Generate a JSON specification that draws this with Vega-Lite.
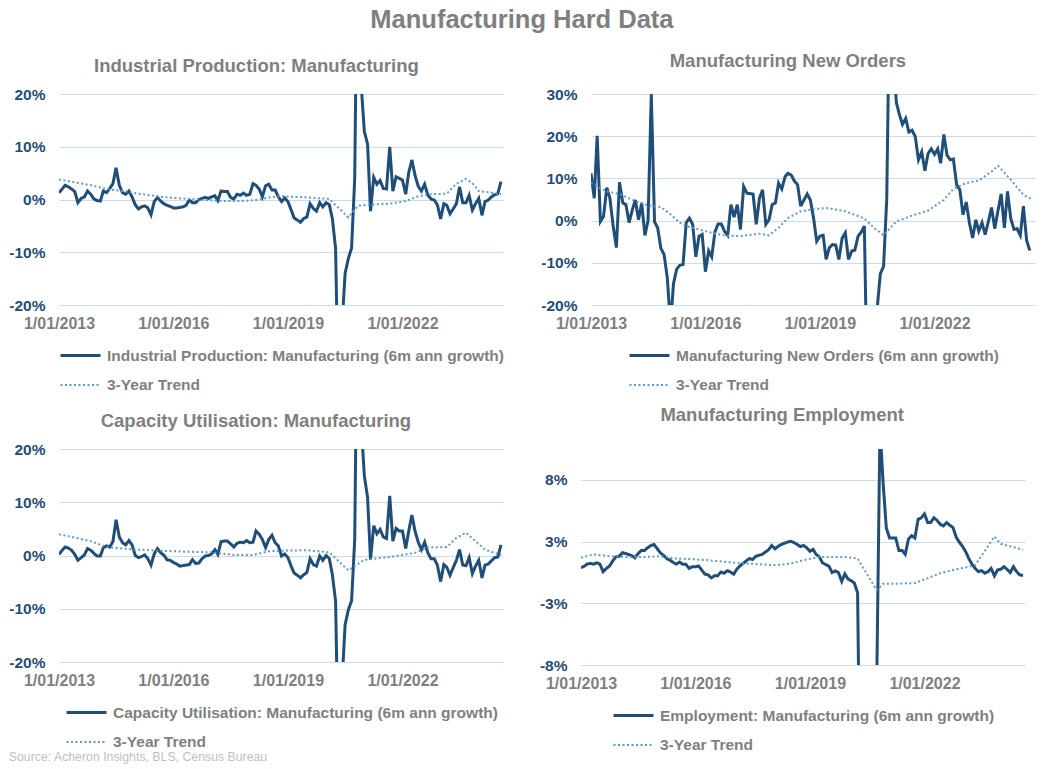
{
  "$schema": "https://vega.github.io/schema/vega-lite/v6.json",
  "background": "white",
  "padding": {"left": 8, "top": 8, "right": 8, "bottom": 2},
  "title": {"text": "Manufacturing Hard Data", "fontSize": 25.5, "fontWeight": "bold", "color": "#7F7F7F", "anchor": "middle", "offset": 18},
  "config": {
    "font": "Liberation Sans",
    "view": {"stroke": null},
    "title": {"fontSize": 18.5, "fontWeight": "bold", "color": "#7F7F7F", "offset": 12, "frame": "bounds"},
    "axisX": {"labelColor": "#7F7F7F", "labelFontSize": 16, "labelFontWeight": "bold", "labelPadding": 10, "grid": false, "domain": false, "ticks": false, "labelFlush": false, "labelOverlap": false},
    "axisY": {"labelColor": "#1F4E79", "labelFontSize": 15.5, "labelFontWeight": "bold", "labelPadding": 14, "grid": true, "gridColor": "#C9DDF0", "gridWidth": 1, "domain": false, "ticks": false},
    "legend": {"orient": "bottom", "direction": "vertical", "labelFontSize": 15.5, "labelFontWeight": "bold", "labelColor": "#7F7F7F", "symbolType": "stroke", "symbolSize": 1600, "labelOffset": 5, "rowPadding": -3.5, "offset": 3, "labelLimit": 700, "layout": {"bottom": {"anchor": "middle"}}}
  },
  "datasets": {
    "ip": [
      {"s":"M","d":"2013-01","v":1.3},{"s":"M","d":"2013-02","v":2.0},{"s":"M","d":"2013-03","v":2.7},{"s":"M","d":"2013-04","v":2.4},{"s":"M","d":"2013-05","v":2.0},{"s":"M","d":"2013-06","v":1.5},{"s":"M","d":"2013-07","v":-0.6},{"s":"M","d":"2013-08","v":0.2},{"s":"M","d":"2013-09","v":0.5},{"s":"M","d":"2013-10","v":1.6},{"s":"M","d":"2013-11","v":1.0},{"s":"M","d":"2013-12","v":0.1},
      {"s":"M","d":"2014-01","v":-0.2},{"s":"M","d":"2014-02","v":-0.3},{"s":"M","d":"2014-03","v":1.6},{"s":"M","d":"2014-04","v":1.3},{"s":"M","d":"2014-05","v":2.1},{"s":"M","d":"2014-06","v":3.0},{"s":"M","d":"2014-07","v":6.0},{"s":"M","d":"2014-08","v":2.7},{"s":"M","d":"2014-09","v":1.3},{"s":"M","d":"2014-10","v":1.0},{"s":"M","d":"2014-11","v":1.6},{"s":"M","d":"2014-12","v":0.5},
      {"s":"M","d":"2015-01","v":-1.0},{"s":"M","d":"2015-02","v":-1.8},{"s":"M","d":"2015-03","v":-1.4},{"s":"M","d":"2015-04","v":-1.2},{"s":"M","d":"2015-05","v":-1.6},{"s":"M","d":"2015-06","v":-2.9},{"s":"M","d":"2015-07","v":-0.4},{"s":"M","d":"2015-08","v":0.4},{"s":"M","d":"2015-09","v":-0.3},{"s":"M","d":"2015-10","v":-0.8},{"s":"M","d":"2015-11","v":-1.1},{"s":"M","d":"2015-12","v":-1.3},
      {"s":"M","d":"2016-01","v":-1.6},{"s":"M","d":"2016-02","v":-1.6},{"s":"M","d":"2016-03","v":-1.5},{"s":"M","d":"2016-04","v":-1.4},{"s":"M","d":"2016-05","v":-1.1},{"s":"M","d":"2016-06","v":-0.1},{"s":"M","d":"2016-07","v":-0.6},{"s":"M","d":"2016-08","v":-0.6},{"s":"M","d":"2016-09","v":0.0},{"s":"M","d":"2016-10","v":0.2},{"s":"M","d":"2016-11","v":0.4},{"s":"M","d":"2016-12","v":0.2},
      {"s":"M","d":"2017-01","v":0.5},{"s":"M","d":"2017-02","v":0.7},{"s":"M","d":"2017-03","v":-0.2},{"s":"M","d":"2017-04","v":1.6},{"s":"M","d":"2017-05","v":1.5},{"s":"M","d":"2017-06","v":1.5},{"s":"M","d":"2017-07","v":0.4},{"s":"M","d":"2017-08","v":0.1},{"s":"M","d":"2017-09","v":1.0},{"s":"M","d":"2017-10","v":0.8},{"s":"M","d":"2017-11","v":1.2},{"s":"M","d":"2017-12","v":0.8},
      {"s":"M","d":"2018-01","v":1.0},{"s":"M","d":"2018-02","v":3.0},{"s":"M","d":"2018-03","v":2.7},{"s":"M","d":"2018-04","v":2.0},{"s":"M","d":"2018-05","v":0.5},{"s":"M","d":"2018-06","v":2.6},{"s":"M","d":"2018-07","v":2.9},{"s":"M","d":"2018-08","v":1.8},{"s":"M","d":"2018-09","v":1.8},{"s":"M","d":"2018-10","v":0.5},{"s":"M","d":"2018-11","v":-0.4},{"s":"M","d":"2018-12","v":0.3},
      {"s":"M","d":"2019-01","v":-0.4},{"s":"M","d":"2019-02","v":-2.0},{"s":"M","d":"2019-03","v":-3.5},{"s":"M","d":"2019-04","v":-3.9},{"s":"M","d":"2019-05","v":-4.3},{"s":"M","d":"2019-06","v":-3.6},{"s":"M","d":"2019-07","v":-3.3},{"s":"M","d":"2019-08","v":-0.8},{"s":"M","d":"2019-09","v":-1.7},{"s":"M","d":"2019-10","v":-2.2},{"s":"M","d":"2019-11","v":-0.6},{"s":"M","d":"2019-12","v":-1.4},
      {"s":"M","d":"2020-01","v":-0.6},{"s":"M","d":"2020-02","v":-1.0},{"s":"M","d":"2020-03","v":-3.6},{"s":"M","d":"2020-04","v":-9.3},{"s":"M","d":"2020-05","v":-42},{"s":"M","d":"2020-06","v":-24},{"s":"M","d":"2020-07","v":-14},{"s":"M","d":"2020-08","v":-11.2},{"s":"M","d":"2020-09","v":-9.2},{"s":"M","d":"2020-10","v":4},{"s":"M","d":"2020-11","v":60},{"s":"M","d":"2020-12","v":22},
      {"s":"M","d":"2021-01","v":12.9},{"s":"M","d":"2021-02","v":10.5},{"s":"M","d":"2021-03","v":-2.2},{"s":"M","d":"2021-04","v":4.2},{"s":"M","d":"2021-05","v":2.9},{"s":"M","d":"2021-06","v":3.6},{"s":"M","d":"2021-07","v":2.1},{"s":"M","d":"2021-08","v":2.0},{"s":"M","d":"2021-09","v":10.0},{"s":"M","d":"2021-10","v":1.6},{"s":"M","d":"2021-11","v":4.3},{"s":"M","d":"2021-12","v":4.0},
      {"s":"M","d":"2022-01","v":3.7},{"s":"M","d":"2022-02","v":1.0},{"s":"M","d":"2022-03","v":5.0},{"s":"M","d":"2022-04","v":7.5},{"s":"M","d":"2022-05","v":4.6},{"s":"M","d":"2022-06","v":2.5},{"s":"M","d":"2022-07","v":1.6},{"s":"M","d":"2022-08","v":2.9},{"s":"M","d":"2022-09","v":0.8},{"s":"M","d":"2022-10","v":0.1},{"s":"M","d":"2022-11","v":-0.1},{"s":"M","d":"2022-12","v":-1.0},
      {"s":"M","d":"2023-01","v":-3.7},{"s":"M","d":"2023-02","v":-0.8},{"s":"M","d":"2023-03","v":-1.1},{"s":"M","d":"2023-04","v":-2.7},{"s":"M","d":"2023-05","v":-1.8},{"s":"M","d":"2023-06","v":-0.8},{"s":"M","d":"2023-07","v":2.4},{"s":"M","d":"2023-08","v":-0.6},{"s":"M","d":"2023-09","v":-0.6},{"s":"M","d":"2023-10","v":0.8},{"s":"M","d":"2023-11","v":-2.0},{"s":"M","d":"2023-12","v":-0.8},
      {"s":"M","d":"2024-01","v":0.2},{"s":"M","d":"2024-02","v":-3.0},{"s":"M","d":"2024-03","v":-0.4},{"s":"M","d":"2024-04","v":-0.1},{"s":"M","d":"2024-05","v":0.5},{"s":"M","d":"2024-06","v":0.9},{"s":"M","d":"2024-07","v":1.1},{"s":"M","d":"2024-08","v":3.4},
      {"s":"T","d":"2013-01","v":3.8},{"s":"T","d":"2013-11","v":2.7},{"s":"T","d":"2014-04","v":2.0},{"s":"T","d":"2014-09","v":1.6},{"s":"T","d":"2015-02","v":1.1},{"s":"T","d":"2015-08","v":0.6},{"s":"T","d":"2016-01","v":0.3},{"s":"T","d":"2016-06","v":0.1},{"s":"T","d":"2016-11","v":-0.1},{"s":"T","d":"2017-05","v":-0.3},{"s":"T","d":"2017-10","v":-0.3},{"s":"T","d":"2018-03","v":-0.1},{"s":"T","d":"2018-08","v":0.5},{"s":"T","d":"2018-11","v":0.6},{"s":"T","d":"2019-07","v":0.4},{"s":"T","d":"2020-02","v":0.1},{"s":"T","d":"2020-08","v":-3.4},{"s":"T","d":"2020-11","v":-1.2},{"s":"T","d":"2021-02","v":-1.0},{"s":"T","d":"2021-09","v":-0.8},{"s":"T","d":"2022-02","v":-0.3},{"s":"T","d":"2022-06","v":0.6},{"s":"T","d":"2022-10","v":1.0},{"s":"T","d":"2023-03","v":1.1},{"s":"T","d":"2023-06","v":3.0},{"s":"T","d":"2023-09","v":3.9},{"s":"T","d":"2023-11","v":3.1},{"s":"T","d":"2024-01","v":1.6},{"s":"T","d":"2024-05","v":1.3},{"s":"T","d":"2024-08","v":1.0}
    ],
    "no": [
      {"s":"M","d":"2013-01","v":11.2},{"s":"M","d":"2013-02","v":5.3},{"s":"M","d":"2013-03","v":20.1},{"s":"M","d":"2013-04","v":-0.2},{"s":"M","d":"2013-05","v":1.0},{"s":"M","d":"2013-06","v":7.8},{"s":"M","d":"2013-07","v":5.3},{"s":"M","d":"2013-08","v":-1.3},{"s":"M","d":"2013-09","v":-6.4},{"s":"M","d":"2013-10","v":9.1},{"s":"M","d":"2013-11","v":4.2},{"s":"M","d":"2013-12","v":3.8},
      {"s":"M","d":"2014-01","v":-0.5},{"s":"M","d":"2014-02","v":2.6},{"s":"M","d":"2014-03","v":4.9},{"s":"M","d":"2014-04","v":0.2},{"s":"M","d":"2014-05","v":4.2},{"s":"M","d":"2014-06","v":-3.5},{"s":"M","d":"2014-07","v":0.0},{"s":"M","d":"2014-08","v":30},{"s":"M","d":"2014-09","v":-0.3},{"s":"M","d":"2014-10","v":-1.7},{"s":"M","d":"2014-11","v":-6.6},{"s":"M","d":"2014-12","v":-8.0},
      {"s":"M","d":"2015-01","v":-13.5},{"s":"M","d":"2015-02","v":-25},{"s":"M","d":"2015-03","v":-15},{"s":"M","d":"2015-04","v":-11.5},{"s":"M","d":"2015-05","v":-10.6},{"s":"M","d":"2015-06","v":-10.4},{"s":"M","d":"2015-07","v":-0.5},{"s":"M","d":"2015-08","v":0.6},{"s":"M","d":"2015-09","v":-0.9},{"s":"M","d":"2015-10","v":-8.6},{"s":"M","d":"2015-11","v":-3.7},{"s":"M","d":"2015-12","v":-3.3},
      {"s":"M","d":"2016-01","v":-12.1},{"s":"M","d":"2016-02","v":-7.2},{"s":"M","d":"2016-03","v":-8.6},{"s":"M","d":"2016-04","v":-2.7},{"s":"M","d":"2016-05","v":-0.8},{"s":"M","d":"2016-06","v":-0.8},{"s":"M","d":"2016-07","v":-2.5},{"s":"M","d":"2016-08","v":-3.5},{"s":"M","d":"2016-09","v":3.8},{"s":"M","d":"2016-10","v":0.8},{"s":"M","d":"2016-11","v":3.8},{"s":"M","d":"2016-12","v":-2.1},
      {"s":"M","d":"2017-01","v":8.1},{"s":"M","d":"2017-02","v":6.5},{"s":"M","d":"2017-03","v":6.4},{"s":"M","d":"2017-04","v":6.3},{"s":"M","d":"2017-05","v":-0.9},{"s":"M","d":"2017-06","v":5.3},{"s":"M","d":"2017-07","v":7.3},{"s":"M","d":"2017-08","v":-0.9},{"s":"M","d":"2017-09","v":0.2},{"s":"M","d":"2017-10","v":3.8},{"s":"M","d":"2017-11","v":4.2},{"s":"M","d":"2017-12","v":8.9},
      {"s":"M","d":"2018-01","v":7.5},{"s":"M","d":"2018-02","v":10.4},{"s":"M","d":"2018-03","v":11.2},{"s":"M","d":"2018-04","v":10.8},{"s":"M","d":"2018-05","v":9.4},{"s":"M","d":"2018-06","v":8.5},{"s":"M","d":"2018-07","v":3.4},{"s":"M","d":"2018-08","v":4.9},{"s":"M","d":"2018-09","v":6.3},{"s":"M","d":"2018-10","v":4.9},{"s":"M","d":"2018-11","v":0.6},{"s":"M","d":"2018-12","v":-4.9},
      {"s":"M","d":"2019-01","v":-3.7},{"s":"M","d":"2019-02","v":-3.5},{"s":"M","d":"2019-03","v":-9.2},{"s":"M","d":"2019-04","v":-6.4},{"s":"M","d":"2019-05","v":-5.7},{"s":"M","d":"2019-06","v":-5.8},{"s":"M","d":"2019-07","v":-9.2},{"s":"M","d":"2019-08","v":-4.2},{"s":"M","d":"2019-09","v":-2.9},{"s":"M","d":"2019-10","v":-9.2},{"s":"M","d":"2019-11","v":-7.2},{"s":"M","d":"2019-12","v":-7.0},
      {"s":"M","d":"2020-01","v":-3.7},{"s":"M","d":"2020-02","v":-2.7},{"s":"M","d":"2020-03","v":-1.3},{"s":"M","d":"2020-04","v":-45},{"s":"M","d":"2020-05","v":-55},{"s":"M","d":"2020-06","v":-40},{"s":"M","d":"2020-07","v":-21},{"s":"M","d":"2020-08","v":-12.6},{"s":"M","d":"2020-09","v":-10.8},{"s":"M","d":"2020-10","v":5},{"s":"M","d":"2020-11","v":60},{"s":"M","d":"2020-12","v":40},
      {"s":"M","d":"2021-01","v":28},{"s":"M","d":"2021-02","v":25},{"s":"M","d":"2021-03","v":22.8},{"s":"M","d":"2021-04","v":24.2},{"s":"M","d":"2021-05","v":21},{"s":"M","d":"2021-06","v":21.4},{"s":"M","d":"2021-07","v":19.9},{"s":"M","d":"2021-08","v":14.4},{"s":"M","d":"2021-09","v":16.3},{"s":"M","d":"2021-10","v":11.8},{"s":"M","d":"2021-11","v":15.9},{"s":"M","d":"2021-12","v":17},
      {"s":"M","d":"2022-01","v":15.7},{"s":"M","d":"2022-02","v":17},{"s":"M","d":"2022-03","v":13.6},{"s":"M","d":"2022-04","v":20.4},{"s":"M","d":"2022-05","v":15.5},{"s":"M","d":"2022-06","v":14.4},{"s":"M","d":"2022-07","v":14.6},{"s":"M","d":"2022-08","v":8.5},{"s":"M","d":"2022-09","v":7.3},{"s":"M","d":"2022-10","v":1.4},{"s":"M","d":"2022-11","v":4.4},{"s":"M","d":"2022-12","v":-0.5},
      {"s":"M","d":"2023-01","v":-4.1},{"s":"M","d":"2023-02","v":0.2},{"s":"M","d":"2023-03","v":-2.5},{"s":"M","d":"2023-04","v":-0.5},{"s":"M","d":"2023-05","v":-3.3},{"s":"M","d":"2023-06","v":-0.2},{"s":"M","d":"2023-07","v":3.1},{"s":"M","d":"2023-08","v":-1.9},{"s":"M","d":"2023-09","v":2.4},{"s":"M","d":"2023-10","v":6.3},{"s":"M","d":"2023-11","v":-1.7},{"s":"M","d":"2023-12","v":6.9},
      {"s":"M","d":"2024-01","v":0.5},{"s":"M","d":"2024-02","v":-2.1},{"s":"M","d":"2024-03","v":-1.9},{"s":"M","d":"2024-04","v":-3.5},{"s":"M","d":"2024-05","v":3.4},{"s":"M","d":"2024-06","v":-4.7},{"s":"M","d":"2024-07","v":-7.1},
      {"s":"T","d":"2013-01","v":8.9},{"s":"T","d":"2013-06","v":6.9},{"s":"T","d":"2013-10","v":6.3},{"s":"T","d":"2014-03","v":4.6},{"s":"T","d":"2014-07","v":3.6},{"s":"T","d":"2014-11","v":3.2},{"s":"T","d":"2015-02","v":1.5},{"s":"T","d":"2015-05","v":-0.5},{"s":"T","d":"2015-07","v":-1.3},{"s":"T","d":"2015-11","v":-2.1},{"s":"T","d":"2016-03","v":-2.9},{"s":"T","d":"2016-07","v":-3.5},{"s":"T","d":"2016-12","v":-3.7},{"s":"T","d":"2017-06","v":-3.1},{"s":"T","d":"2017-09","v":-3.5},{"s":"T","d":"2017-12","v":-1.7},{"s":"T","d":"2018-03","v":0.6},{"s":"T","d":"2018-07","v":2.2},{"s":"T","d":"2018-11","v":2.7},{"s":"T","d":"2019-03","v":3.0},{"s":"T","d":"2019-09","v":2.2},{"s":"T","d":"2020-03","v":0.5},{"s":"T","d":"2020-06","v":-1.7},{"s":"T","d":"2020-09","v":-3.5},{"s":"T","d":"2021-01","v":-0.2},{"s":"T","d":"2021-06","v":1.2},{"s":"T","d":"2021-11","v":2.4},{"s":"T","d":"2022-04","v":4.9},{"s":"T","d":"2022-07","v":7.5},{"s":"T","d":"2022-11","v":8.9},{"s":"T","d":"2023-03","v":9.5},{"s":"T","d":"2023-07","v":11.6},{"s":"T","d":"2023-09","v":13.0},{"s":"T","d":"2024-01","v":9.7},{"s":"T","d":"2024-05","v":6.1},{"s":"T","d":"2024-08","v":4.9}
    ],
    "cu": [
      {"s":"M","d":"2013-01","v":0.2},{"s":"M","d":"2013-02","v":1.0},{"s":"M","d":"2013-03","v":1.6},{"s":"M","d":"2013-04","v":1.4},{"s":"M","d":"2013-05","v":1.0},{"s":"M","d":"2013-06","v":0.2},{"s":"M","d":"2013-07","v":-0.9},{"s":"M","d":"2013-08","v":-0.4},{"s":"M","d":"2013-09","v":0.1},{"s":"M","d":"2013-10","v":1.3},{"s":"M","d":"2013-11","v":1.0},{"s":"M","d":"2013-12","v":0.4},
      {"s":"M","d":"2014-01","v":-0.1},{"s":"M","d":"2014-02","v":-0.1},{"s":"M","d":"2014-03","v":1.5},{"s":"M","d":"2014-04","v":1.8},{"s":"M","d":"2014-05","v":1.6},{"s":"M","d":"2014-06","v":2.6},{"s":"M","d":"2014-07","v":6.7},{"s":"M","d":"2014-08","v":3.5},{"s":"M","d":"2014-09","v":2.4},{"s":"M","d":"2014-10","v":2.0},{"s":"M","d":"2014-11","v":2.8},{"s":"M","d":"2014-12","v":2.0},
      {"s":"M","d":"2015-01","v":0.0},{"s":"M","d":"2015-02","v":-0.4},{"s":"M","d":"2015-03","v":-0.2},{"s":"M","d":"2015-04","v":0.1},{"s":"M","d":"2015-05","v":-0.6},{"s":"M","d":"2015-06","v":-1.8},{"s":"M","d":"2015-07","v":0.3},{"s":"M","d":"2015-08","v":1.3},{"s":"M","d":"2015-09","v":0.5},{"s":"M","d":"2015-10","v":0.1},{"s":"M","d":"2015-11","v":-0.8},{"s":"M","d":"2015-12","v":-0.9},
      {"s":"M","d":"2016-01","v":-1.3},{"s":"M","d":"2016-02","v":-1.6},{"s":"M","d":"2016-03","v":-2.0},{"s":"M","d":"2016-04","v":-1.9},{"s":"M","d":"2016-05","v":-1.8},{"s":"M","d":"2016-06","v":-1.7},{"s":"M","d":"2016-07","v":-0.8},{"s":"M","d":"2016-08","v":-1.5},{"s":"M","d":"2016-09","v":-1.4},{"s":"M","d":"2016-10","v":-0.6},{"s":"M","d":"2016-11","v":-0.1},{"s":"M","d":"2016-12","v":0.0},
      {"s":"M","d":"2017-01","v":0.3},{"s":"M","d":"2017-02","v":1.1},{"s":"M","d":"2017-03","v":0.2},{"s":"M","d":"2017-04","v":2.6},{"s":"M","d":"2017-05","v":2.7},{"s":"M","d":"2017-06","v":2.7},{"s":"M","d":"2017-07","v":2.2},{"s":"M","d":"2017-08","v":1.6},{"s":"M","d":"2017-09","v":2.3},{"s":"M","d":"2017-10","v":2.5},{"s":"M","d":"2017-11","v":2.4},{"s":"M","d":"2017-12","v":2.8},
      {"s":"M","d":"2018-01","v":2.4},{"s":"M","d":"2018-02","v":2.5},{"s":"M","d":"2018-03","v":4.6},{"s":"M","d":"2018-04","v":4.0},{"s":"M","d":"2018-05","v":3.0},{"s":"M","d":"2018-06","v":1.5},{"s":"M","d":"2018-07","v":3.0},{"s":"M","d":"2018-08","v":3.8},{"s":"M","d":"2018-09","v":2.4},{"s":"M","d":"2018-10","v":1.8},{"s":"M","d":"2018-11","v":-0.1},{"s":"M","d":"2018-12","v":0.3},
      {"s":"M","d":"2019-01","v":-0.4},{"s":"M","d":"2019-02","v":-2.0},{"s":"M","d":"2019-03","v":-3.3},{"s":"M","d":"2019-04","v":-3.7},{"s":"M","d":"2019-05","v":-4.2},{"s":"M","d":"2019-06","v":-3.6},{"s":"M","d":"2019-07","v":-3.2},{"s":"M","d":"2019-08","v":-0.6},{"s":"M","d":"2019-09","v":-1.7},{"s":"M","d":"2019-10","v":-2.0},{"s":"M","d":"2019-11","v":-0.1},{"s":"M","d":"2019-12","v":-0.9},
      {"s":"M","d":"2020-01","v":0.0},{"s":"M","d":"2020-02","v":-0.6},{"s":"M","d":"2020-03","v":-3.6},{"s":"M","d":"2020-04","v":-8.6},{"s":"M","d":"2020-05","v":-42},{"s":"M","d":"2020-06","v":-24},{"s":"M","d":"2020-07","v":-13},{"s":"M","d":"2020-08","v":-10.2},{"s":"M","d":"2020-09","v":-8.5},{"s":"M","d":"2020-10","v":3},{"s":"M","d":"2020-11","v":60},{"s":"M","d":"2020-12","v":25},
      {"s":"M","d":"2021-01","v":15},{"s":"M","d":"2021-02","v":10.9},{"s":"M","d":"2021-03","v":-0.8},{"s":"M","d":"2021-04","v":5.6},{"s":"M","d":"2021-05","v":4.1},{"s":"M","d":"2021-06","v":4.9},{"s":"M","d":"2021-07","v":3.5},{"s":"M","d":"2021-08","v":3.2},{"s":"M","d":"2021-09","v":11.2},{"s":"M","d":"2021-10","v":2.7},{"s":"M","d":"2021-11","v":5.1},{"s":"M","d":"2021-12","v":4.6},
      {"s":"M","d":"2022-01","v":4.6},{"s":"M","d":"2022-02","v":1.3},{"s":"M","d":"2022-03","v":4.5},{"s":"M","d":"2022-04","v":7.6},{"s":"M","d":"2022-05","v":4.6},{"s":"M","d":"2022-06","v":2.5},{"s":"M","d":"2022-07","v":1.1},{"s":"M","d":"2022-08","v":2.5},{"s":"M","d":"2022-09","v":0.5},{"s":"M","d":"2022-10","v":-0.6},{"s":"M","d":"2022-11","v":-0.6},{"s":"M","d":"2022-12","v":-1.8},
      {"s":"M","d":"2023-01","v":-4.9},{"s":"M","d":"2023-02","v":-1.7},{"s":"M","d":"2023-03","v":-2.2},{"s":"M","d":"2023-04","v":-3.7},{"s":"M","d":"2023-05","v":-2.3},{"s":"M","d":"2023-06","v":-0.9},{"s":"M","d":"2023-07","v":1.1},{"s":"M","d":"2023-08","v":-1.8},{"s":"M","d":"2023-09","v":-1.9},{"s":"M","d":"2023-10","v":-0.4},{"s":"M","d":"2023-11","v":-3.4},{"s":"M","d":"2023-12","v":-2.0},
      {"s":"M","d":"2024-01","v":-0.9},{"s":"M","d":"2024-02","v":-4.2},{"s":"M","d":"2024-03","v":-1.8},{"s":"M","d":"2024-04","v":-1.6},{"s":"M","d":"2024-05","v":-1.0},{"s":"M","d":"2024-06","v":-0.4},{"s":"M","d":"2024-07","v":-0.3},{"s":"M","d":"2024-08","v":2.0},
      {"s":"T","d":"2013-01","v":4.0},{"s":"T","d":"2013-11","v":2.7},{"s":"T","d":"2014-04","v":1.6},{"s":"T","d":"2014-09","v":1.3},{"s":"T","d":"2015-08","v":0.9},{"s":"T","d":"2016-06","v":0.7},{"s":"T","d":"2017-01","v":0.6},{"s":"T","d":"2017-08","v":0.1},{"s":"T","d":"2018-02","v":0.1},{"s":"T","d":"2018-07","v":0.8},{"s":"T","d":"2018-11","v":0.9},{"s":"T","d":"2019-07","v":1.0},{"s":"T","d":"2020-02","v":0.6},{"s":"T","d":"2020-08","v":-2.8},{"s":"T","d":"2021-01","v":-0.8},{"s":"T","d":"2021-09","v":-0.3},{"s":"T","d":"2022-05","v":0.5},{"s":"T","d":"2022-09","v":1.5},{"s":"T","d":"2023-03","v":1.6},{"s":"T","d":"2023-06","v":3.3},{"s":"T","d":"2023-09","v":4.3},{"s":"T","d":"2023-12","v":2.7},{"s":"T","d":"2024-03","v":1.1},{"s":"T","d":"2024-06","v":0.5},{"s":"T","d":"2024-08","v":0.1}
    ],
    "em": [
      {"s":"M","d":"2013-01","v":0.42},{"s":"M","d":"2013-02","v":0.55},{"s":"M","d":"2013-03","v":0.75},{"s":"M","d":"2013-04","v":0.8},{"s":"M","d":"2013-05","v":0.74},{"s":"M","d":"2013-06","v":0.86},{"s":"M","d":"2013-07","v":0.74},{"s":"M","d":"2013-08","v":0.07},{"s":"M","d":"2013-09","v":0.36},{"s":"M","d":"2013-10","v":0.57},{"s":"M","d":"2013-11","v":1.03},{"s":"M","d":"2013-12","v":1.38},
      {"s":"M","d":"2014-01","v":1.44},{"s":"M","d":"2014-02","v":1.76},{"s":"M","d":"2014-03","v":1.7},{"s":"M","d":"2014-04","v":1.6},{"s":"M","d":"2014-05","v":1.5},{"s":"M","d":"2014-06","v":1.3},{"s":"M","d":"2014-07","v":1.67},{"s":"M","d":"2014-08","v":1.96},{"s":"M","d":"2014-09","v":1.96},{"s":"M","d":"2014-10","v":2.2},{"s":"M","d":"2014-11","v":2.4},{"s":"M","d":"2014-12","v":2.49},
      {"s":"M","d":"2015-01","v":2.11},{"s":"M","d":"2015-02","v":1.73},{"s":"M","d":"2015-03","v":1.53},{"s":"M","d":"2015-04","v":1.24},{"s":"M","d":"2015-05","v":1.1},{"s":"M","d":"2015-06","v":0.9},{"s":"M","d":"2015-07","v":0.74},{"s":"M","d":"2015-08","v":0.92},{"s":"M","d":"2015-09","v":0.74},{"s":"M","d":"2015-10","v":0.74},{"s":"M","d":"2015-11","v":0.36},{"s":"M","d":"2015-12","v":0.5},
      {"s":"M","d":"2016-01","v":0.5},{"s":"M","d":"2016-02","v":0.57},{"s":"M","d":"2016-03","v":0.22},{"s":"M","d":"2016-04","v":-0.16},{"s":"M","d":"2016-05","v":-0.22},{"s":"M","d":"2016-06","v":-0.48},{"s":"M","d":"2016-07","v":-0.3},{"s":"M","d":"2016-08","v":-0.3},{"s":"M","d":"2016-09","v":0.04},{"s":"M","d":"2016-10","v":-0.07},{"s":"M","d":"2016-11","v":0.16},{"s":"M","d":"2016-12","v":0.04},
      {"s":"M","d":"2017-01","v":-0.16},{"s":"M","d":"2017-02","v":0.3},{"s":"M","d":"2017-03","v":0.57},{"s":"M","d":"2017-04","v":0.8},{"s":"M","d":"2017-05","v":1.03},{"s":"M","d":"2017-06","v":1.24},{"s":"M","d":"2017-07","v":1.15},{"s":"M","d":"2017-08","v":1.44},{"s":"M","d":"2017-09","v":1.53},{"s":"M","d":"2017-10","v":1.61},{"s":"M","d":"2017-11","v":1.82},{"s":"M","d":"2017-12","v":2.02},
      {"s":"M","d":"2018-01","v":2.4},{"s":"M","d":"2018-02","v":2.11},{"s":"M","d":"2018-03","v":2.31},{"s":"M","d":"2018-04","v":2.49},{"s":"M","d":"2018-05","v":2.6},{"s":"M","d":"2018-06","v":2.7},{"s":"M","d":"2018-07","v":2.78},{"s":"M","d":"2018-08","v":2.66},{"s":"M","d":"2018-09","v":2.49},{"s":"M","d":"2018-10","v":2.31},{"s":"M","d":"2018-11","v":2.4},{"s":"M","d":"2018-12","v":2.2},
      {"s":"M","d":"2019-01","v":1.88},{"s":"M","d":"2019-02","v":2.05},{"s":"M","d":"2019-03","v":1.61},{"s":"M","d":"2019-04","v":1.38},{"s":"M","d":"2019-05","v":0.86},{"s":"M","d":"2019-06","v":0.7},{"s":"M","d":"2019-07","v":0.57},{"s":"M","d":"2019-08","v":-0.01},{"s":"M","d":"2019-09","v":0.13},{"s":"M","d":"2019-10","v":-0.01},{"s":"M","d":"2019-11","v":-0.8},{"s":"M","d":"2019-12","v":-0.13},
      {"s":"M","d":"2020-01","v":-0.6},{"s":"M","d":"2020-02","v":-0.74},{"s":"M","d":"2020-03","v":-0.95},{"s":"M","d":"2020-04","v":-1.82},{"s":"M","d":"2020-05","v":-25},{"s":"M","d":"2020-06","v":-22},{"s":"M","d":"2020-07","v":-18},{"s":"M","d":"2020-08","v":-14},{"s":"M","d":"2020-09","v":-12},{"s":"M","d":"2020-10","v":-10},{"s":"M","d":"2020-11","v":13},{"s":"M","d":"2020-12","v":8},
      {"s":"M","d":"2021-01","v":3.94},{"s":"M","d":"2021-02","v":3.07},{"s":"M","d":"2021-03","v":3.07},{"s":"M","d":"2021-04","v":3.07},{"s":"M","d":"2021-05","v":1.96},{"s":"M","d":"2021-06","v":1.96},{"s":"M","d":"2021-07","v":1.61},{"s":"M","d":"2021-08","v":2.98},{"s":"M","d":"2021-09","v":3.27},{"s":"M","d":"2021-10","v":3.07},{"s":"M","d":"2021-11","v":4.73},{"s":"M","d":"2021-12","v":4.87},
      {"s":"M","d":"2022-01","v":5.22},{"s":"M","d":"2022-02","v":4.44},{"s":"M","d":"2022-03","v":4.44},{"s":"M","d":"2022-04","v":4.87},{"s":"M","d":"2022-05","v":4.64},{"s":"M","d":"2022-06","v":4.29},{"s":"M","d":"2022-07","v":4.15},{"s":"M","d":"2022-08","v":4.44},{"s":"M","d":"2022-09","v":4.2},{"s":"M","d":"2022-10","v":4.0},{"s":"M","d":"2022-11","v":3.13},{"s":"M","d":"2022-12","v":2.69},
      {"s":"M","d":"2023-01","v":2.31},{"s":"M","d":"2023-02","v":1.82},{"s":"M","d":"2023-03","v":1.24},{"s":"M","d":"2023-04","v":0.74},{"s":"M","d":"2023-05","v":0.36},{"s":"M","d":"2023-06","v":0.07},{"s":"M","d":"2023-07","v":0.16},{"s":"M","d":"2023-08","v":-0.07},{"s":"M","d":"2023-09","v":0.07},{"s":"M","d":"2023-10","v":0.36},{"s":"M","d":"2023-11","v":-0.3},{"s":"M","d":"2023-12","v":0.22},
      {"s":"M","d":"2024-01","v":0.28},{"s":"M","d":"2024-02","v":0.51},{"s":"M","d":"2024-03","v":0.28},{"s":"M","d":"2024-04","v":-0.01},{"s":"M","d":"2024-05","v":0.51},{"s":"M","d":"2024-06","v":0.07},{"s":"M","d":"2024-07","v":-0.22},{"s":"M","d":"2024-08","v":-0.28},
      {"s":"T","d":"2013-01","v":1.32},{"s":"T","d":"2013-05","v":1.61},{"s":"T","d":"2013-10","v":1.44},{"s":"T","d":"2014-03","v":1.38},{"s":"T","d":"2014-09","v":1.38},{"s":"T","d":"2015-02","v":1.44},{"s":"T","d":"2015-07","v":1.24},{"s":"T","d":"2015-12","v":1.18},{"s":"T","d":"2016-05","v":1.09},{"s":"T","d":"2016-10","v":0.95},{"s":"T","d":"2017-04","v":0.8},{"s":"T","d":"2017-09","v":0.74},{"s":"T","d":"2018-01","v":0.65},{"s":"T","d":"2018-04","v":0.7},{"s":"T","d":"2018-07","v":0.8},{"s":"T","d":"2018-11","v":1.1},{"s":"T","d":"2019-04","v":1.38},{"s":"T","d":"2019-12","v":1.38},{"s":"T","d":"2020-04","v":1.24},{"s":"T","d":"2020-10","v":-1.59},{"s":"T","d":"2020-12","v":-1.0},{"s":"T","d":"2021-05","v":-1.0},{"s":"T","d":"2021-10","v":-0.95},{"s":"T","d":"2022-02","v":-0.51},{"s":"T","d":"2022-06","v":-0.07},{"s":"T","d":"2022-11","v":0.28},{"s":"T","d":"2023-03","v":0.51},{"s":"T","d":"2023-05","v":0.65},{"s":"T","d":"2023-11","v":3.19},{"s":"T","d":"2024-01","v":2.55},{"s":"T","d":"2024-05","v":2.26},{"s":"T","d":"2024-08","v":2.0}
    ]
  },
  "resolve": {"scale": {"color": "independent", "strokeDash": "independent", "strokeWidth": "independent"}, "legend": {"color": "independent", "strokeDash": "independent", "strokeWidth": "independent"}},
  "spacing": 11,
  "vconcat": [
    {
      "spacing": 36,
      "resolve": {"scale": {"color": "independent", "strokeDash": "independent", "strokeWidth": "independent"}, "legend": {"color": "independent", "strokeDash": "independent", "strokeWidth": "independent"}},
      "hconcat": [
        {
          "title": "Industrial Production: Manufacturing",
          "width": 444, "height": 211,
          "data": {"name": "ip"},
          "mark": {"type": "line", "clip": true},
          "encoding": {
            "x": {"field": "d", "type": "temporal", "scale": {"type": "utc", "domain": [{"year": 2013, "month": 1, "date": 1, "utc": true}, {"year": 2024, "month": 8, "date": 20, "utc": true}]}, "axis": {"title": null, "format": "%-d/%m/%Y", "values": [{"year": 2013, "month": 1, "date": 1, "utc": true}, {"year": 2016, "month": 1, "date": 1, "utc": true}, {"year": 2019, "month": 1, "date": 1, "utc": true}, {"year": 2022, "month": 1, "date": 1, "utc": true}]}},
            "y": {"field": "v", "type": "quantitative", "scale": {"domain": [-20, 20], "nice": false, "zero": false}, "axis": {"title": null, "values": [-20, -10, 0, 10, 20], "labelExpr": "datum.value + '%'"}},
            "color": {"field": "s", "type": "nominal", "scale": {"domain": ["M", "T"], "range": ["#1F4E79", "#5B9BD5"]}, "legend": {"title": null, "labelExpr": "datum.value == 'M' ? 'Industrial Production: Manufacturing (6m ann growth)' : '3-Year Trend'"}},
            "strokeDash": {"field": "s", "type": "nominal", "scale": {"domain": ["M", "T"], "range": [[1, 0], [2, 2.5]]}, "legend": {"title": null, "labelExpr": "datum.value == 'M' ? 'Industrial Production: Manufacturing (6m ann growth)' : '3-Year Trend'"}},
            "strokeWidth": {"field": "s", "type": "nominal", "scale": {"domain": ["M", "T"], "range": [3, 2]}, "legend": {"title": null, "labelExpr": "datum.value == 'M' ? 'Industrial Production: Manufacturing (6m ann growth)' : '3-Year Trend'"}}
          }
        },
        {
          "title": {"text": "Manufacturing New Orders", "offset": 17},
          "width": 444, "height": 211,
          "data": {"name": "no"},
          "mark": {"type": "line", "clip": true},
          "encoding": {
            "x": {"field": "d", "type": "temporal", "scale": {"type": "utc", "domain": [{"year": 2013, "month": 1, "date": 1, "utc": true}, {"year": 2024, "month": 8, "date": 20, "utc": true}]}, "axis": {"title": null, "format": "%-d/%m/%Y", "values": [{"year": 2013, "month": 1, "date": 1, "utc": true}, {"year": 2016, "month": 1, "date": 1, "utc": true}, {"year": 2019, "month": 1, "date": 1, "utc": true}, {"year": 2022, "month": 1, "date": 1, "utc": true}]}},
            "y": {"field": "v", "type": "quantitative", "scale": {"domain": [-20, 30], "nice": false, "zero": false}, "axis": {"title": null, "values": [-20, -10, 0, 10, 20, 30], "labelExpr": "datum.value + '%'"}},
            "color": {"field": "s", "type": "nominal", "scale": {"domain": ["M", "T"], "range": ["#1F4E79", "#5B9BD5"]}, "legend": {"title": null, "labelExpr": "datum.value == 'M' ? 'Manufacturing New Orders (6m ann growth)' : '3-Year Trend'"}},
            "strokeDash": {"field": "s", "type": "nominal", "scale": {"domain": ["M", "T"], "range": [[1, 0], [2, 2.5]]}, "legend": {"title": null, "labelExpr": "datum.value == 'M' ? 'Manufacturing New Orders (6m ann growth)' : '3-Year Trend'"}},
            "strokeWidth": {"field": "s", "type": "nominal", "scale": {"domain": ["M", "T"], "range": [3, 2]}, "legend": {"title": null, "labelExpr": "datum.value == 'M' ? 'Manufacturing New Orders (6m ann growth)' : '3-Year Trend'"}}
          }
        }
      ]
    },
    {
      "spacing": 36,
      "title": {"text": "Source: Acheron Insights, BLS, Census Bureau", "orient": "bottom", "anchor": "start", "fontSize": 12.3, "fontWeight": "normal", "color": "#BFBFBF", "offset": -3},
      "resolve": {"scale": {"color": "independent", "strokeDash": "independent", "strokeWidth": "independent"}, "legend": {"color": "independent", "strokeDash": "independent", "strokeWidth": "independent"}},
      "hconcat": [
        {
          "title": "Capacity Utilisation: Manufacturing",
          "width": 444, "height": 213,
          "data": {"name": "cu"},
          "mark": {"type": "line", "clip": true},
          "encoding": {
            "x": {"field": "d", "type": "temporal", "scale": {"type": "utc", "domain": [{"year": 2013, "month": 1, "date": 1, "utc": true}, {"year": 2024, "month": 8, "date": 20, "utc": true}]}, "axis": {"title": null, "format": "%-d/%m/%Y", "values": [{"year": 2013, "month": 1, "date": 1, "utc": true}, {"year": 2016, "month": 1, "date": 1, "utc": true}, {"year": 2019, "month": 1, "date": 1, "utc": true}, {"year": 2022, "month": 1, "date": 1, "utc": true}]}},
            "y": {"field": "v", "type": "quantitative", "scale": {"domain": [-20, 20], "nice": false, "zero": false}, "axis": {"title": null, "values": [-20, -10, 0, 10, 20], "labelExpr": "datum.value + '%'"}},
            "color": {"field": "s", "type": "nominal", "scale": {"domain": ["M", "T"], "range": ["#1F4E79", "#5B9BD5"]}, "legend": {"title": null, "labelExpr": "datum.value == 'M' ? 'Capacity Utilisation: Manufacturing (6m ann growth)' : '3-Year Trend'"}},
            "strokeDash": {"field": "s", "type": "nominal", "scale": {"domain": ["M", "T"], "range": [[1, 0], [2, 2.5]]}, "legend": {"title": null, "labelExpr": "datum.value == 'M' ? 'Capacity Utilisation: Manufacturing (6m ann growth)' : '3-Year Trend'"}},
            "strokeWidth": {"field": "s", "type": "nominal", "scale": {"domain": ["M", "T"], "range": [3, 2]}, "legend": {"title": null, "labelExpr": "datum.value == 'M' ? 'Capacity Utilisation: Manufacturing (6m ann growth)' : '3-Year Trend'"}}
          }
        },
        {
          "title": {"text": "Manufacturing Employment", "offset": 25},
          "width": 444, "height": 216,
          "data": {"name": "em"},
          "mark": {"type": "line", "clip": true},
          "encoding": {
            "x": {"field": "d", "type": "temporal", "scale": {"type": "utc", "domain": [{"year": 2013, "month": 1, "date": 1, "utc": true}, {"year": 2024, "month": 8, "date": 20, "utc": true}]}, "axis": {"title": null, "format": "%-d/%m/%Y", "values": [{"year": 2013, "month": 1, "date": 1, "utc": true}, {"year": 2016, "month": 1, "date": 1, "utc": true}, {"year": 2019, "month": 1, "date": 1, "utc": true}, {"year": 2022, "month": 1, "date": 1, "utc": true}]}},
            "y": {"field": "v", "type": "quantitative", "scale": {"domain": [-8.25, 11], "nice": false, "zero": false}, "axis": {"title": null, "values": [-8.25, -2.75, 2.75, 8.25], "labelExpr": "round(datum.value) + '%'"}},
            "color": {"field": "s", "type": "nominal", "scale": {"domain": ["M", "T"], "range": ["#1F4E79", "#5B9BD5"]}, "legend": {"title": null, "labelExpr": "datum.value == 'M' ? 'Employment: Manufacturing (6m ann growth)' : '3-Year Trend'"}},
            "strokeDash": {"field": "s", "type": "nominal", "scale": {"domain": ["M", "T"], "range": [[1, 0], [2, 2.5]]}, "legend": {"title": null, "labelExpr": "datum.value == 'M' ? 'Employment: Manufacturing (6m ann growth)' : '3-Year Trend'"}},
            "strokeWidth": {"field": "s", "type": "nominal", "scale": {"domain": ["M", "T"], "range": [3, 2]}, "legend": {"title": null, "labelExpr": "datum.value == 'M' ? 'Employment: Manufacturing (6m ann growth)' : '3-Year Trend'"}}
          }
        }
      ]
    }
  ]
}
